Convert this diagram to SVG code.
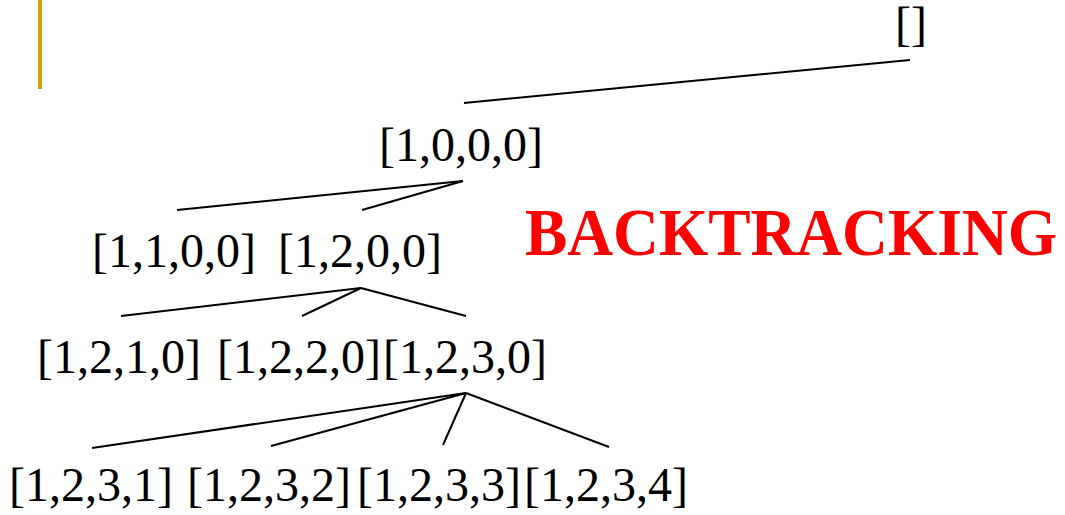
<svg xmlns="http://www.w3.org/2000/svg" width="1065" height="515" viewBox="0 0 1065 515">
<style>
.n{font-family:"Liberation Serif","Times New Roman",serif;font-size:48px;fill:#000}
.e line{stroke:#000;stroke-width:2}
.t{font-family:"Liberation Serif","Times New Roman",serif;font-size:68px;font-weight:bold;fill:#ff0000}
</style>
<rect x="38" y="0" width="4" height="89" fill="#d4a000"/>
<g class="e" id="connectors">
<line x1="910" y1="60" x2="464" y2="103"/>
<line x1="463" y1="181" x2="177" y2="210"/>
<line x1="463" y1="181" x2="362" y2="210"/>
<line x1="361" y1="288" x2="121" y2="316"/>
<line x1="361" y1="288" x2="302" y2="316"/>
<line x1="361" y1="288" x2="466" y2="316"/>
<line x1="466" y1="393" x2="92" y2="448"/>
<line x1="466" y1="393" x2="271" y2="446"/>
<line x1="466" y1="393" x2="443" y2="445"/>
<line x1="466" y1="393" x2="609" y2="447"/>
</g>
<g id="root"><text class="n" x="895" y="40">[]</text></g>
<g id="n1000"><text class="n" x="379" y="161">[1,0,0,0]</text></g>
<g id="n1100"><text class="n" x="92" y="267">[1,1,0,0]</text></g>
<g id="n1200"><text class="n" x="278" y="267">[1,2,0,0]</text></g>
<g id="n1210"><text class="n" x="37" y="373">[1,2,1,0]</text></g>
<g id="n1220"><text class="n" x="217" y="373">[1,2,2,0]</text></g>
<g id="n1230"><text class="n" x="383" y="373">[1,2,3,0]</text></g>
<g id="n1231"><text class="n" x="9" y="501">[1,2,3,1]</text></g>
<g id="n1232"><text class="n" x="187" y="501">[1,2,3,2]</text></g>
<g id="n1233"><text class="n" x="357" y="501">[1,2,3,3]</text></g>
<g id="n1234"><text class="n" x="524" y="501">[1,2,3,4]</text></g>
<g id="label"><text class="t" x="525" y="255" textLength="532" lengthAdjust="spacingAndGlyphs">BACKTRACKING</text></g>
</svg>
